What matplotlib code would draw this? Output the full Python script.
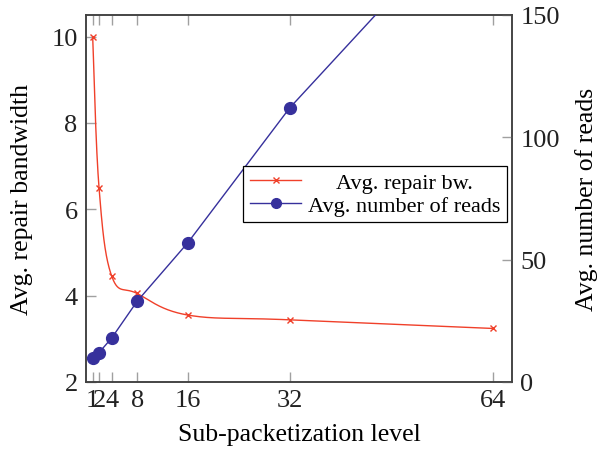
import numpy as np
import matplotlib
matplotlib.use("Agg")
import matplotlib.pyplot as plt
from matplotlib.lines import Line2D

# Sub-packetization levels and measured averages
levels = [1, 2, 4, 8, 16, 32, 64]
repair_bw = [10.0, 6.5, 4.45, 4.05, 3.55, 3.44, 3.24]
num_reads = [10, 12, 18, 33, 57, 112, 202]

x_ticks = [1, 2, 4, 8, 16, 32, 64]
left_ticks = [2, 4, 6, 8, 10]
right_ticks = [0, 50, 100, 150]

RED = "#f0402a"
BLUE = "#36309c"
TENSION = 0.18


def smooth(xs, ys, tension=TENSION, n=80):
    """Piecewise cubic Bezier through the points (TikZ-style smooth plot)."""
    p = np.column_stack([xs, ys]).astype(float)
    m = len(p)
    out = []
    for i in range(m - 1):
        a, b = p[i], p[i + 1]
        prev = p[i - 1] if i > 0 else p[i]
        nxt = p[i + 2] if i + 2 < m else p[i + 1]
        c1 = a + tension * (b - prev)
        c2 = b - tension * (nxt - a)
        t = np.linspace(0, 1, n)[:, None]
        seg = ((1 - t) ** 3) * a + 3 * ((1 - t) ** 2) * t * c1 + 3 * (1 - t) * t ** 2 * c2 + t ** 3 * b
        out.append(seg if i == 0 else seg[1:])
    seg = np.vstack(out)
    return seg[:, 0], seg[:, 1]


plt.rcParams["font.family"] = ["Liberation Serif", "DejaVu Serif"]

fig = plt.figure(figsize=(5.97, 4.52), dpi=100)
ax = fig.add_axes([86 / 597, 69 / 452, 426 / 597, 367 / 452])
ax2 = ax.twinx()

sx, sy = smooth(levels, repair_bw)
ax.plot(sx, sy, color=RED, lw=1.0, zorder=3)
ax.plot(levels, repair_bw, ls="none", marker="x", ms=5, mew=1.0, color=RED, zorder=4)

ax2.plot(levels, num_reads, color=BLUE, lw=1.0, marker="o", ms=8.5, zorder=3)

ax.set_xlim(-0.05, 67)
ax.set_ylim(2, 10.5)
ax2.set_ylim(0, 150)

ax.set_xticks(x_ticks)
ax.set_xticklabels([str(v) for v in x_ticks])
ax.set_yticks(left_ticks)
ax2.set_yticks(right_ticks)

tick_kw = dict(direction="in", length=7, width=1.0, color="#a0a0a0",
               labelcolor="#222222", labelsize=19)
ax.tick_params(axis="x", top=True, bottom=True, pad=5, **tick_kw)
ax.tick_params(axis="y", left=True, right=False, pad=6, **tick_kw)
ax2.tick_params(axis="y", right=True, left=False, pad=6, **tick_kw)

for a in (ax, ax2):
    for s in a.spines.values():
        s.set_color("#404040")
        s.set_linewidth(1.1)

ax.set_xlabel("Sub-packetization level", fontsize=18.5)
ax.set_ylabel("Avg. repair bandwidth", fontsize=18.5)
ax2.set_ylabel("Avg. number of reads", fontsize=18.5)
ax.xaxis.set_label_coords(0.5, -0.112)
ax.yaxis.set_label_coords(-0.124, 0.5)
ax2.yaxis.set_label_coords(1.147, 0.5)

handles = [
    Line2D([], [], color=RED, lw=1.0, marker="x", ms=5, mew=1.0),
    Line2D([], [], color=BLUE, lw=1.0, marker="o", ms=7),
]
labels = ["Avg. repair bw.", "Avg. number of reads"]
leg = ax2.legend(handles, labels, loc="center right", bbox_to_anchor=(0.988, 0.512),
                 fontsize=16, frameon=True, fancybox=False, edgecolor="black",
                 framealpha=1, handlelength=2.3, handletextpad=0.3,
                 borderpad=0.3, labelspacing=0.1, borderaxespad=0)
leg.get_frame().set_linewidth(0.9)

# center the legend entries within the text column
fig.canvas.draw()
r = fig.canvas.get_renderer()
texts = leg.get_texts()
widths = [t.get_window_extent(r).width for t in texts]
wmax = max(widths)
for t, w in zip(texts, widths):
    t.set_x((wmax - w) / 2)

fig.savefig("out.png", dpi=100)
